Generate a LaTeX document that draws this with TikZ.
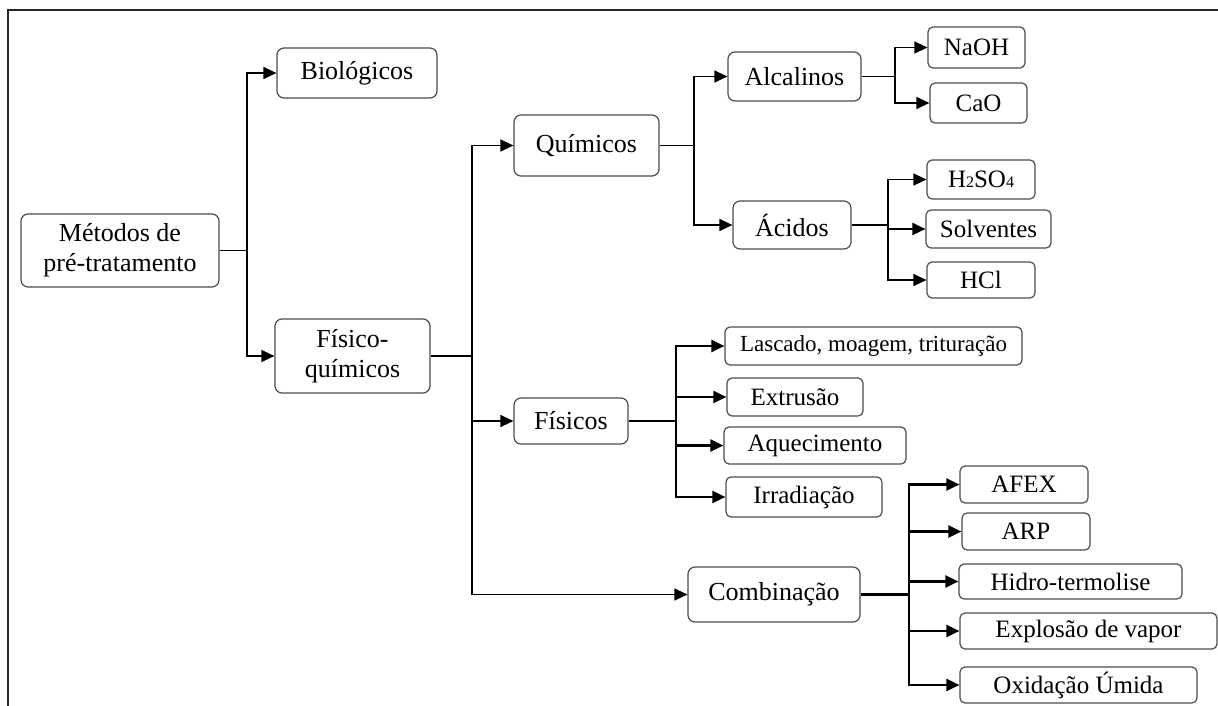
\documentclass[tikz,border=0pt]{standalone}
\usepackage{fontspec}
\setmainfont{Liberation Serif}
\usetikzlibrary{arrows.meta}
% small digits sitting on the baseline, as in the chemical formula labels
\newcommand{\lowdigit}[1]{{\fontsize{16}{16}\selectfont #1}}
\begin{document}
\begin{tikzpicture}[x=1pt,y=-1pt,
  box/.style={draw=black!70, line width=1.2pt, rounded corners=7pt, fill=white,
    inner sep=0pt, align=center, font=\fontsize{26}{30}\selectfont},
  leaf/.style={box, rounded corners=5pt, font=\fontsize{25}{30}\selectfont},
  link/.style={line width=1.3pt, black},
  boldlink/.style={line width=2.2pt, black},
  tip/.style={-{Triangle[length=13pt,width=12pt]}}
]
\useasboundingbox (0,0) rectangle (1218,706);
% frame
\draw[line width=2pt, black!85] (8,706) -- (8,10) -- (1218,10);

% level 0 and 1
\node[box, minimum width=198pt, minimum height=73pt] (met) at (120,250.5) {Métodos de\\pré-tratamento};
\node[box, minimum width=160pt, minimum height=50pt] (bio) at (357,73) {Biológicos};
\node[box, minimum width=155pt, minimum height=74pt] (fq) at (352.5,356) {Físico-\\químicos};

% level 2
\node[box, minimum width=145pt, minimum height=61pt] (qui) at (586.5,145.5) {Químicos};
\node[box, minimum width=114pt, minimum height=46pt] (fis) at (571,421) {Físicos};
\node[box, minimum width=172pt, minimum height=55pt] (comb) at (774,594.5) {Combinação};

% chemical branch
\node[box, minimum width=133pt, minimum height=49pt] (alc) at (794.5,76.5) {Alcalinos};
\node[box, minimum width=118pt, minimum height=48pt] (aci) at (792,225) {Ácidos};
\node[leaf, minimum width=97pt, minimum height=41pt] (naoh) at (976.5,47.5) {NaOH};
\node[leaf, minimum width=97pt, minimum height=40pt] (cao) at (978.5,103) {CaO};
\node[leaf, minimum width=108pt, minimum height=39pt] (h2so4) at (981,179.5) {H\lowdigit{2}SO\lowdigit{4}};
\node[leaf, minimum width=125pt, minimum height=38pt] (solv) at (988.5,229) {Solventes};
\node[leaf, minimum width=108pt, minimum height=36pt] (hcl) at (981,280) {HCl};

% physical branch
\node[leaf, font=\fontsize{23}{28}\selectfont, minimum width=297pt, minimum height=38pt] (lasc) at (873.5,346) {Lascado, moagem, trituração};
\node[leaf, minimum width=136pt, minimum height=38pt] (extr) at (795,397) {Extrusão};
\node[leaf, minimum width=182pt, minimum height=37pt] (aque) at (815,445.5) {Aquecimento};
\node[leaf, minimum width=156pt, minimum height=40pt] (irr) at (804,497) {Irradiação};

% combined branch
\node[leaf, minimum width=128pt, minimum height=37pt] (afex) at (1024,484.5) {AFEX};
\node[leaf, minimum width=128pt, minimum height=37pt] (arp) at (1026,531.5) {ARP};
\node[leaf, minimum width=223pt, minimum height=35pt] (hidro) at (1070.5,581.5) {Hidro-termolise};
\node[leaf, minimum width=257pt, minimum height=36pt] (expl) at (1088.5,631) {Explosão de vapor};
\node[leaf, minimum width=237pt, minimum height=36pt] (oxi) at (1078.5,685) {Oxidação Úmida};

% branching points
\coordinate (jA) at (247,250.5);
\coordinate (jB) at (472,356);
\coordinate (jC) at (694,145.5);
\coordinate (jD) at (895,76.5);
\coordinate (jE) at (888,225);
\coordinate (jF) at (676,421);
\coordinate (jG) at (909,594.5);

% connectors
\draw[link] (met.east) -- (jA);
\draw[link,tip] (jA) |- (bio.west);
\draw[link,tip] (jA) |- (fq.west);

\draw[link] (fq.east) -- (jB);
\draw[link,tip] (jB) |- (qui.west);
\draw[link,tip] (jB) |- (fis.west);
\draw[link,tip] (jB) |- (comb.west);

\draw[link] (qui.east) -- (jC);
\draw[link,tip] (jC) |- (alc.west);
\draw[link,tip] (jC) |- (aci.west);

\draw[link] (alc.east) -- (jD);
\draw[link,tip] (jD) |- (naoh.west);
\draw[link,tip] (jD) |- (cao.west);

\draw[boldlink] (aci.east) -- (jE);
\draw[link,tip] (jE) |- (h2so4.west);
\draw[boldlink,tip] (jE) |- (solv.west);
\draw[link,tip] (jE) |- (hcl.west);

\draw[boldlink] (fis.east) -- (jF);
\draw[boldlink,tip] (jF) |- (lasc.west);
\draw[boldlink,tip] (jF) |- (extr.west);
\draw[boldlink,tip] (jF) |- (aque.west);
\draw[boldlink,tip] (jF) |- (irr.west);

\draw[boldlink] (comb.east) -- (jG);
\draw[boldlink,tip] (jG) |- (afex.west);
\draw[boldlink,tip] (jG) |- (arp.west);
\draw[boldlink,tip] (jG) |- (hidro.west);
\draw[boldlink,tip] (jG) |- (expl.west);
\draw[boldlink,tip] (jG) |- (oxi.west);
\end{tikzpicture}
\end{document}
